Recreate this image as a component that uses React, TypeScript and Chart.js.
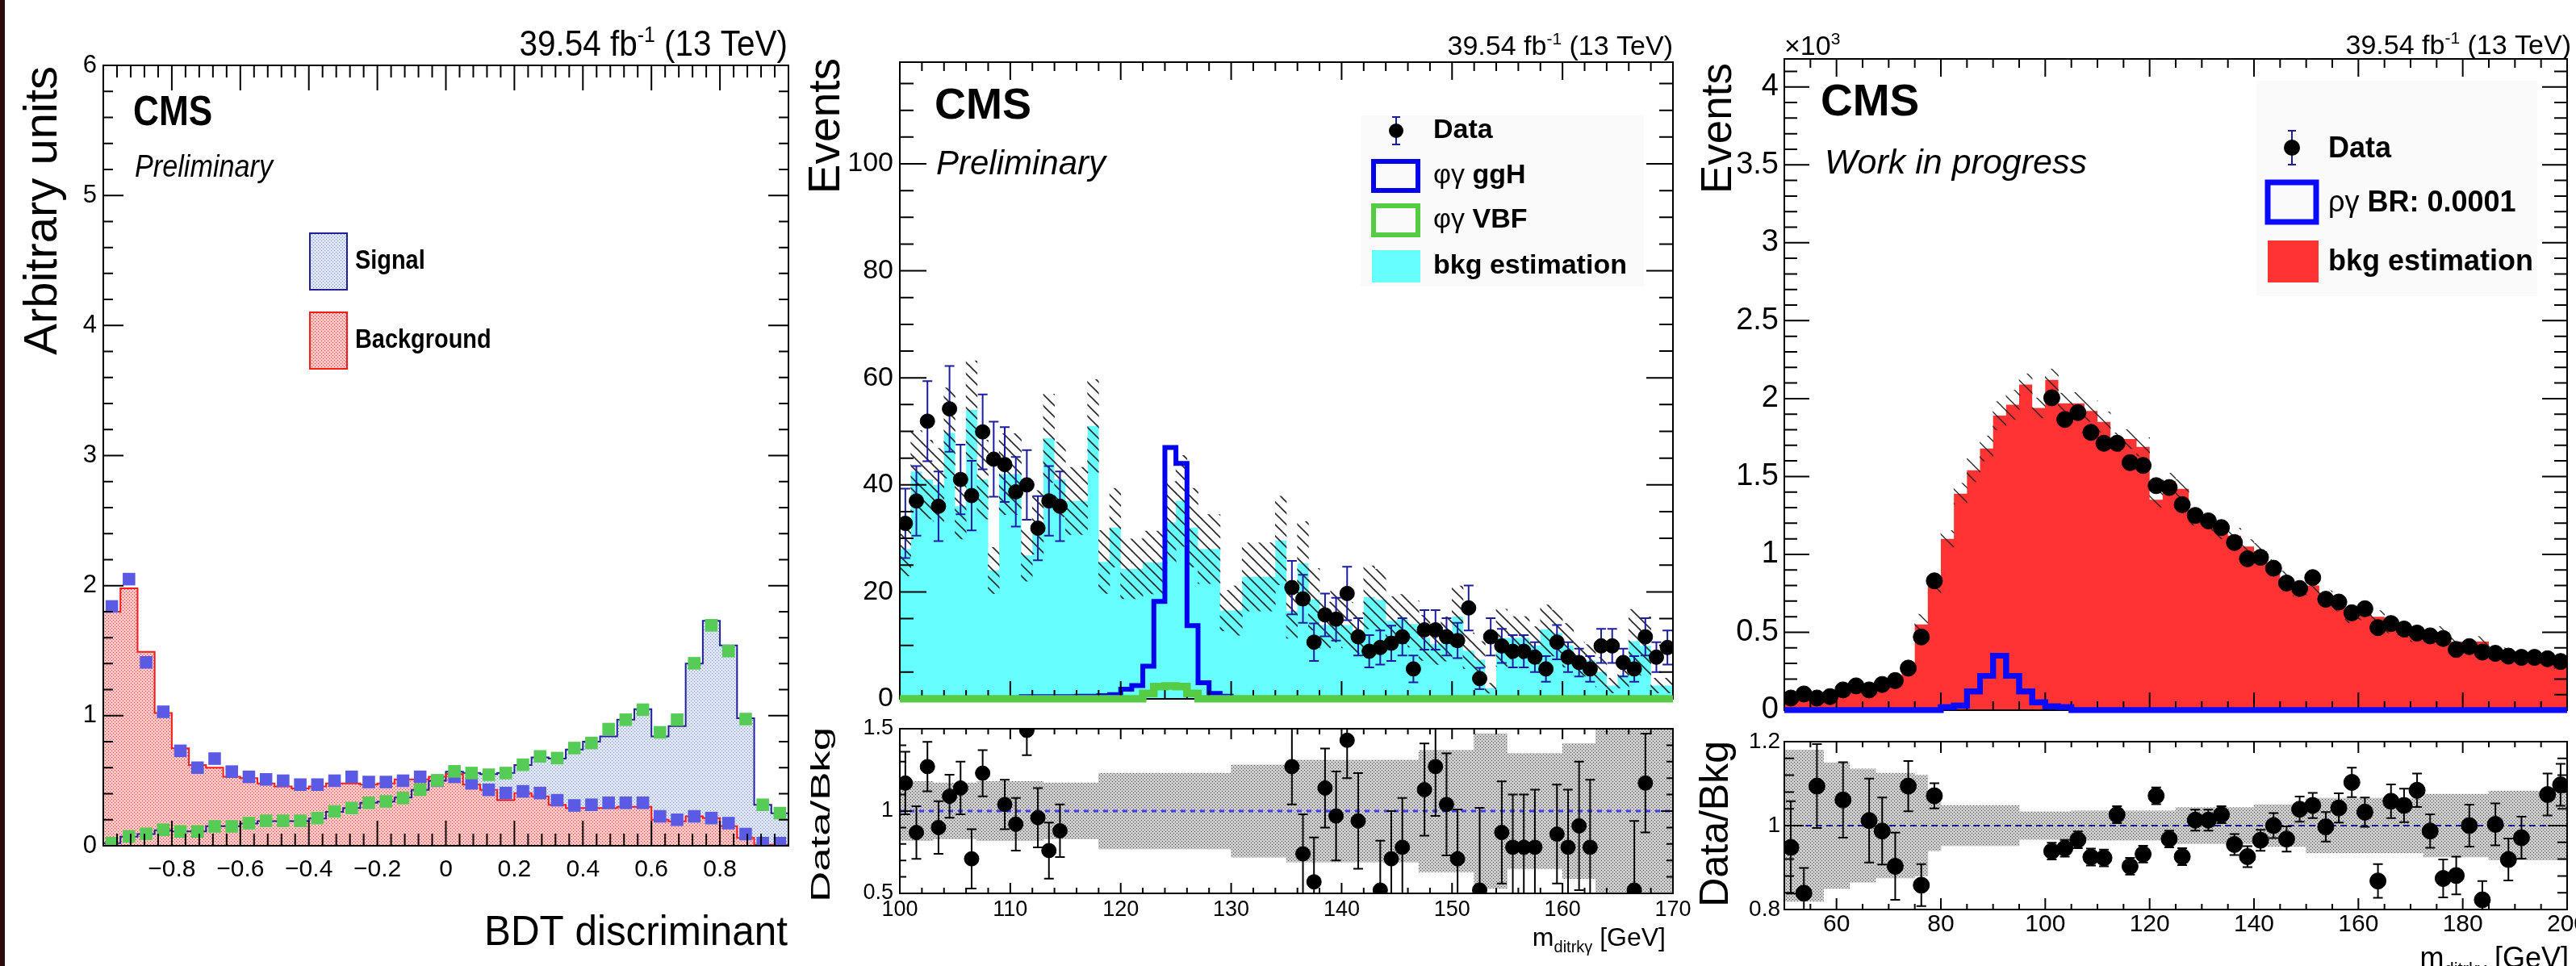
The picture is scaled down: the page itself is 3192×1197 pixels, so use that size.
import { useEffect, useRef } from 'react';
import { Chart, registerables } from 'chart.js';

Chart.register(...registerables);

const FAMILY = '"Liberation Sans", Arial, Helvetica, sans-serif';

/* ================= Panel 1 : BDT discriminant ================= */
const p1BinLow = -1;
const p1BinWidth = 0.05;
const p1SignalHist = [0.02, 0.07, 0.09, 0.12, 0.11, 0.11, 0.15, 0.15, 0.17, 0.19, 0.19, 0.19, 0.21, 0.26, 0.29, 0.33, 0.34, 0.37, 0.43, 0.50, 0.57, 0.56, 0.55, 0.56, 0.62, 0.68, 0.67, 0.74, 0.80, 0.84, 0.97, 1.05, 0.84, 0.92, 1.40, 1.73, 1.54, 0.98, 0.315, 0.25];
const p1BackgroundHist = [1.80, 1.98, 1.49, 1.02, 0.75, 0.62, 0.60, 0.53, 0.52, 0.48, 0.456, 0.44, 0.456, 0.48, 0.48, 0.47, 0.48, 0.51, 0.51, 0.53, 0.55, 0.47, 0.43, 0.35, 0.405, 0.38, 0.315, 0.29, 0.29, 0.29, 0.30, 0.30, 0.20, 0.187, 0.226, 0.213, 0.15, 0.06, 0.008, 0.008];
const p1SignalTest = [0.02, 0.072, 0.092, 0.123, 0.11, 0.11, 0.149, 0.149, 0.174, 0.192, 0.192, 0.192, 0.213, 0.264, 0.29, 0.33, 0.341, 0.367, 0.431, 0.503, 0.572, 0.559, 0.546, 0.559, 0.623, 0.687, 0.674, 0.751, 0.79, 0.897, 0.969, 1.046, 0.872, 0.969, 1.403, 1.695, 1.497, 0.974, 0.315, 0.251];
const p1BackgroundTest = [1.84, 2.05, 1.41, 1.03, 0.73, 0.60, 0.67, 0.57, 0.53, 0.51, 0.50, 0.47, 0.47, 0.50, 0.53, 0.49, 0.49, 0.50, 0.53, 0.50, 0.53, 0.48, 0.43, 0.405, 0.418, 0.405, 0.35, 0.31, 0.315, 0.33, 0.33, 0.33, 0.226, 0.20, 0.226, 0.213, 0.174, 0.09, 0.02, 0.02];
const p1XRange = [-1, 1];
const p1YRange = [0, 6];
const p1XTicks = [-0.8, -0.6, -0.4, -0.2, 0, 0.2, 0.4, 0.6, 0.8];
const p1XTickLabels = ['\u22120.8', '\u22120.6', '\u22120.4', '\u22120.2', '0', '0.2', '0.4', '0.6', '0.8'];
const p1YTicks = [0, 1, 2, 3, 4, 5, 6];
const p1YTickLabels = ['0', '1', '2', '3', '4', '5', '6'];

/* ================= Panel 2 : phi gamma, 100-170 GeV ================= */
const p2BinLow = 100;
const p2BinWidth = 1;
const p2Background = [
  28, 42.5, 41, 40, 49.7, 36, 54, 41, 24, 42,
  42, 26.8, 33, 48.7, 41, 37, 37, 51, 25.6, 32,
  24.3, 24.3, 25.5, 25.5, 33, 37, 32, 28, 28, 16.5,
  16.5, 22.8, 22.8, 22.8, 29.6, 16.4, 25.3, 18.6, 13.8, 15.4,
  13.8, 12.3, 19, 18.5, 14.6, 14.9, 14, 11.4, 10.2, 11.2,
  15.4, 9, 7.3, 2, 11.4, 11.4, 11.4, 10, 13, 12.3,
  10, 7.5, 7.2, 5, 2.5, 4.5, 10.8, 9.9, 2.5, 2.5,
];
const p2BackgroundRelErr = [
  0.18, 0.18, 0.18, 0.17, 0.17, 0.17, 0.17, 0.18, 0.18, 0.18,
  0.18, 0.18, 0.18, 0.17, 0.17, 0.17, 0.17, 0.17, 0.23, 0.23,
  0.23, 0.23, 0.23, 0.23, 0.23, 0.23, 0.23, 0.23, 0.23, 0.23,
  0.28, 0.28, 0.28, 0.28, 0.28, 0.31, 0.31, 0.31, 0.31, 0.31,
  0.31, 0.31, 0.31, 0.31, 0.31, 0.31, 0.31, 0.37, 0.37, 0.37,
  0.37, 0.37, 0.47, 0.47, 0.47, 0.35, 0.35, 0.35, 0.35, 0.35,
  0.41, 0.41, 0.41, 0.55, 0.55, 0.55, 0.55, 0.55, 0.55, 0.55,
];
const p2GgHLow = 111;
const p2GgH = [0.4, 0.4, 0.4, 0.4, 0.4, 0.5, 0.5, 0.6, 0.8, 1.8, 2.5, 6.1, 18.2, 47, 44, 13.7, 3, 1, 0.5];
const p2VBF = [
  0, 0, 0, 0, 0, 0, 0, 0, 0, 0,
  0, 0, 0, 0, 0, 0, 0, 0, 0, 0,
  0, 0, 1.0, 2.3, 2.4, 2.3, 1.0, 0, 0, 0,
  0, 0, 0, 0, 0, 0, 0, 0, 0, 0,
  0, 0, 0, 0, 0, 0, 0, 0, 0, 0,
  0, 0, 0, 0, 0, 0, 0, 0, 0, 0,
  0, 0, 0, 0, 0, 0, 0, 0, 0, 0,
];
const p2DataX = [100.5, 101.5, 102.5, 103.5, 104.5, 105.5, 106.5, 107.5, 108.5, 109.5, 110.5, 111.5, 112.5, 113.5, 114.5,
  135.5, 136.5, 137.5, 138.5, 139.5, 140.5, 141.5, 142.5, 143.5, 144.5, 145.5, 146.5, 147.5, 148.5, 149.5, 150.5, 151.5, 152.5,
  153.5, 154.5, 155.5, 156.5, 157.5, 158.5, 159.5, 160.5, 161.5, 162.5, 163.5, 164.5, 165.5, 166.5, 167.5, 168.5, 169.5];
const p2DataY = [32.8, 37, 51.9, 36, 54.2, 41, 38, 49.9, 44.8, 43.8, 38.7, 40, 31.9, 37, 36,
  20.8, 18.7, 10.6, 15.7, 14.9, 19.7, 11.6, 8.9, 9.6, 10.4, 11.6, 5.6, 12.9, 12.9, 11.6, 10.9, 17, 3.8,
  11.6, 9.9, 8.9, 8.9, 7.8, 5.6, 10.6, 7.8, 6.8, 5.6, 9.9, 9.9, 6.8, 5.6, 11.6, 7.8, 9.6];
const p2DataErr = [6.5, 6.5, 7.5, 6.5, 8, 6.5, 6.5, 7, 7, 7, 6.5, 6.5, 6, 6.5, 6.5,
  5, 4.5, 3.5, 4, 4, 5, 3.5, 3, 3.2, 3.3, 3.5, 2.5, 3.7, 3.7, 3.5, 3.3, 4.2, 2,
  3.5, 3.2, 3, 3, 2.8, 2.4, 3.2, 2.8, 2.6, 2.4, 3.2, 3.2, 2.6, 2.4, 3.5, 2.8, 3.2];
const p2RatioX = [100.5, 101.5, 102.5, 103.5, 104.5, 105.5, 106.5, 107.5, 109.5, 110.5, 111.5, 112.5, 113.5, 114.5,
  135.5, 136.5, 137.5, 138.5, 139.5, 140.5, 141.5, 143.5, 144.5, 145.5, 147.5, 148.5, 149.5, 150.5, 152.5,
  154.5, 155.5, 156.5, 157.5, 159.5, 160.5, 161.5, 162.5, 166.5, 167.5];
const p2RatioY = [1.17, 0.87, 1.27, 0.90, 1.09, 1.14, 0.71, 1.23, 1.04, 0.92, 1.49, 0.96, 0.76, 0.88,
  1.27, 0.74, 0.57, 1.14, 0.97, 1.43, 0.94, 0.52, 0.71, 0.78, 1.13, 1.27, 1.04, 0.71, 0.52,
  0.87, 0.78, 0.78, 0.78, 0.86, 0.78, 0.91, 0.78, 0.52, 1.17];
const p2RatioErr = [0.19, 0.16, 0.15, 0.16, 0.13, 0.16, 0.18, 0.14, 0.15, 0.16, 0.15, 0.18, 0.17, 0.16,
  0.23, 0.24, 0.27, 0.24, 0.27, 0.23, 0.29, 0.3, 0.29, 0.3, 0.28, 0.3, 0.31, 0.3, 0.5,
  0.31, 0.32, 0.32, 0.35, 0.3, 0.35, 0.39, 0.41, 0.42, 0.3];
const p2XRange = [100, 170];
const p2YRange = [0, 119];
const p2RatioRange = [0.5, 1.5];
const p2XTicks = [100, 110, 120, 130, 140, 150, 160, 170];
const p2XTickLabels = ['100', '110', '120', '130', '140', '150', '160', '170'];
const p2YTicks = [0, 20, 40, 60, 80, 100];
const p2YTickLabels = ['0', '20', '40', '60', '80', '100'];
const p2RatioTicks = [0.5, 1, 1.5];
const p2RatioTickLabels = ['0.5', '1', '1.5'];

/* ================= Panel 3 : rho gamma, 50-200 GeV (x10^3 events) ================= */
const p3BinLow = 50;
const p3BinWidth = 2.5;
const p3Background = [
  0.082, 0.12, 0.075, 0.11, 0.123, 0.13, 0.128, 0.167, 0.21, 0.25,
  0.55, 0.80, 1.10, 1.39, 1.54, 1.68, 1.89, 1.96, 2.09, 1.94,
  2.12, 1.97, 1.97, 1.92, 1.85, 1.72, 1.74, 1.69, 1.35, 1.47,
  1.42, 1.24, 1.20, 1.15, 1.12, 1.05, 1.02, 0.92, 0.85, 0.77,
  0.80, 0.72, 0.68, 0.60, 0.62, 0.60, 0.53, 0.50, 0.47, 0.48,
  0.50, 0.44, 0.42, 0.44, 0.38, 0.37, 0.35, 0.34, 0.32, 0.29,
];
const p3BackgroundRelErr = [
  0.18, 0.18, 0.18, 0.15, 0.15, 0.135, 0.135, 0.125, 0.125, 0.125,
  0.12, 0.06, 0.048, 0.048, 0.048, 0.048, 0.048, 0.048, 0.033, 0.033,
  0.033, 0.033, 0.035, 0.035, 0.035, 0.035, 0.035, 0.035, 0.035, 0.035,
  0.043, 0.043, 0.043, 0.043, 0.043, 0.043, 0.05, 0.05, 0.05, 0.05,
  0.065, 0.065, 0.065, 0.065, 0.065, 0.065, 0.065, 0.065, 0.065, 0.075,
  0.075, 0.075, 0.075, 0.075, 0.082, 0.082, 0.082, 0.082, 0.082, 0.082,
];
const p3Signal = [
  0, 0, 0, 0, 0, 0, 0, 0, 0, 0,
  0, 0, 0.02, 0.03, 0.12, 0.22, 0.35, 0.22, 0.12, 0.05,
  0.025, 0.02, 0, 0, 0, 0, 0, 0, 0, 0,
  0, 0, 0, 0, 0, 0, 0, 0, 0, 0,
  0, 0, 0, 0, 0, 0, 0, 0, 0, 0,
  0, 0, 0, 0, 0, 0, 0, 0, 0, 0,
];
const p3DataX = [51.25, 53.75, 56.25, 58.75, 61.25, 63.75, 66.25, 68.75, 71.25, 73.75, 76.25, 78.75,
  101.25, 103.75, 106.25, 108.75, 111.25, 113.75, 116.25, 118.75, 121.25, 123.75, 126.25, 128.75,
  131.25, 133.75, 136.25, 138.75, 141.25, 143.75, 146.25, 148.75, 151.25, 153.75, 156.25, 158.75,
  161.25, 163.75, 166.25, 168.75, 171.25, 173.75, 176.25, 178.75, 181.25, 183.75, 186.25, 188.75,
  191.25, 193.75, 196.25, 198.75];
const p3DataY = [0.078, 0.104, 0.078, 0.087, 0.13, 0.156, 0.13, 0.165, 0.19, 0.27, 0.47, 0.83,
  2.005, 1.866, 1.91, 1.783, 1.713, 1.713, 1.589, 1.571, 1.441, 1.429, 1.319, 1.25,
  1.215, 1.172, 1.076, 0.972, 0.981, 0.911, 0.816, 0.781, 0.851, 0.712, 0.694, 0.625,
  0.651, 0.53, 0.556, 0.521, 0.495, 0.477, 0.46, 0.39, 0.408, 0.373, 0.365, 0.347,
  0.339, 0.339, 0.33, 0.3125];
const p3RatioX = [51.25, 53.75, 56.25, 61.25, 66.25, 68.75, 71.25, 73.75, 76.25, 78.75,
  101.25, 103.75, 106.25, 108.75, 111.25, 113.75, 116.25, 118.75, 121.25, 123.75, 126.25, 128.75,
  131.25, 133.75, 136.25, 138.75, 141.25, 143.75, 146.25, 148.75, 151.25, 153.75, 156.25, 158.75,
  161.25, 163.75, 166.25, 168.75, 171.25, 173.75, 176.25, 178.75, 181.25, 183.75, 186.25, 188.75,
  191.25, 196.25, 198.75];
const p3RatioY = [0.948, 0.839, 1.094, 1.061, 1.012, 0.987, 0.903, 1.094, 0.858, 1.071,
  0.939, 0.946, 0.966, 0.925, 0.923, 1.026, 0.903, 0.932, 1.071, 0.968, 0.926, 1.013,
  1.013, 1.026, 0.955, 0.926, 0.965, 1.0, 0.968, 1.039, 1.048, 0.997, 1.042, 1.103,
  1.032, 0.868, 1.058, 1.048, 1.084, 0.987, 0.874, 0.881, 1.0, 0.823, 1.003, 0.919,
  0.971, 1.074, 1.097];
const p3RatioErr = [0.11, 0.06, 0.1, 0.09, 0.1, 0.08, 0.08, 0.06, 0.05, 0.03,
  0.02, 0.02, 0.02, 0.02, 0.02, 0.02, 0.02, 0.02, 0.02, 0.02, 0.02, 0.025,
  0.025, 0.02, 0.025, 0.025, 0.025, 0.03, 0.03, 0.03, 0.03, 0.035, 0.035, 0.035,
  0.035, 0.04, 0.04, 0.04, 0.04, 0.04, 0.045, 0.045, 0.05, 0.045, 0.05, 0.05,
  0.05, 0.05, 0.05];
const p3XRange = [50, 200];
const p3YRange = [0, 4.18];
const p3RatioRange = [0.8, 1.2];
const p3XTicks = [60, 80, 100, 120, 140, 160, 180, 200];
const p3XTickLabels = ['60', '80', '100', '120', '140', '160', '180', '200'];
const p3YTicks = [0, 0.5, 1, 1.5, 2, 2.5, 3, 3.5, 4];
const p3YTickLabels = ['0', '0.5', '1', '1.5', '2', '2.5', '3', '3.5', '4'];
const p3RatioTicks = [0.8, 1, 1.2];
const p3RatioTickLabels = ['0.8', '1', '1.2'];

/* ================= layout ================= */
const CANVASES = [
  { x: 0, y: 0, w: 1062, h: 1197, area: { l: 128, t: 81, r: 977, b: 1048 } },
  { x: 1000, y: 0, w: 1100, h: 886, area: { l: 1115, t: 77, r: 2073, b: 866 } },
  { x: 1000, y: 886, w: 1100, h: 311, area: { l: 1115, t: 903, r: 2073, b: 1107 } },
  { x: 2085, y: 0, w: 1107, h: 898, area: { l: 2211, t: 73, r: 3190, b: 880 } },
  { x: 2085, y: 898, w: 1107, h: 299, area: { l: 2211, t: 919, r: 3190, b: 1127 } },
];

/* ================= helpers ================= */
function fontOf(p: any) {
  return `${p.style || 'normal'} ${p.weight || 'normal'} ${p.size}px ${FAMILY}`;
}
function P(t: string, size: number, weight = 'normal', style = 'normal', dy = 0) {
  return { t, size, weight, style, dy };
}
function drawRich(ctx: any, parts: any[], x: number, y: number, o: any = {}) {
  ctx.save();
  ctx.translate(x, y);
  if (o.rot) ctx.rotate(o.rot);
  ctx.scale(o.sx || 1, 1);
  ctx.textAlign = 'left';
  ctx.textBaseline = o.baseline || 'alphabetic';
  ctx.fillStyle = o.color || '#000';
  let total = 0;
  parts.forEach((p) => { ctx.font = fontOf(p); total += ctx.measureText(p.t).width; });
  let cx = o.align === 'right' ? -total : o.align === 'center' ? -total / 2 : 0;
  parts.forEach((p) => { ctx.font = fontOf(p); ctx.fillText(p.t, cx, p.dy || 0); cx += ctx.measureText(p.t).width; });
  ctx.restore();
}
function histPoints(lo: number, w: number, vals: number[]) {
  const pts: any[] = [{ x: lo, y: 0 }];
  vals.forEach((v, i) => pts.push({ x: lo + i * w, y: v }));
  pts.push({ x: lo + vals.length * w, y: vals[vals.length - 1] });
  pts.push({ x: lo + vals.length * w, y: 0 });
  return pts;
}
function binCenters(lo: number, w: number, n: number) {
  return Array.from({ length: n }, (_, i) => lo + (i + 0.5) * w);
}
function makeTile(w: number, h: number, paint: (g: any) => void) {
  const c = document.createElement('canvas');
  c.width = w; c.height = h;
  const g = c.getContext('2d')!;
  paint(g);
  return g.createPattern(c, 'repeat');
}
function dotPattern(base: string, dot: string) {
  return makeTile(4, 4, (g) => {
    g.fillStyle = base; g.fillRect(0, 0, 4, 4);
    g.fillStyle = dot; g.fillRect(0, 0, 1, 1); g.fillRect(2, 2, 1, 1);
  });
}
function hatchPattern(color: string, s: number, lw: number) {
  return makeTile(s, s, (g) => {
    g.strokeStyle = color; g.lineWidth = lw;
    g.beginPath();
    g.moveTo(-2, -2); g.lineTo(s + 2, s + 2);
    g.moveTo(-2, s - 2); g.lineTo(2, s + 2);
    g.moveTo(s - 2, -2); g.lineTo(s + 2, 2);
    g.stroke();
  });
}
function eachStep(min: number, max: number, step: number, f: (v: number) => void) {
  const k0 = Math.ceil(min / step - 1e-6);
  for (let k = k0; k * step <= max + 1e-9; k++) f(k * step);
}

const errorBarPlugin = {
  id: 'errbars',
  beforeDatasetDraw(chart: any, args: any) {
    const ds = chart.data.datasets[args.index];
    if (!ds.errors) return;
    const ctx = chart.ctx;
    const a = chart.chartArea;
    const ys = chart.scales.y;
    ctx.save();
    ctx.beginPath();
    ctx.rect(a.left, a.top, a.right - a.left, a.bottom - a.top);
    ctx.clip();
    ctx.strokeStyle = ds.errColor;
    ctx.lineWidth = ds.errWidth;
    ctx.beginPath();
    args.meta.data.forEach((pt: any, i: number) => {
      const d = ds.data[i];
      const e = ds.errors[i];
      const y1 = ys.getPixelForValue(d.y + e);
      const y2 = ys.getPixelForValue(d.y - e);
      const c = ds.errCap;
      ctx.moveTo(pt.x, y1); ctx.lineTo(pt.x, y2);
      ctx.moveTo(pt.x - c, y1); ctx.lineTo(pt.x + c, y1);
      ctx.moveTo(pt.x - c, y2); ctx.lineTo(pt.x + c, y2);
    });
    ctx.stroke();
    ctx.restore();
  },
};

function framePlugin(spec: any) {
  return {
    id: 'rootFrame',
    afterDatasetsDraw(chart: any) {
      const ctx = chart.ctx;
      const a = chart.chartArea;
      const xs = chart.scales.x;
      const ys = chart.scales.y;
      ctx.save();
      ctx.strokeStyle = '#000';
      ctx.lineWidth = 2;
      ctx.beginPath();
      const X = spec.x;
      const Y = spec.y;
      eachStep(X.min, X.max, X.minor, (v) => {
        const p = xs.getPixelForValue(v);
        ctx.moveTo(p, a.bottom); ctx.lineTo(p, a.bottom - X.minLen);
        ctx.moveTo(p, a.top); ctx.lineTo(p, a.top + X.minLen);
      });
      eachStep(X.min, X.max, X.major, (v) => {
        const p = xs.getPixelForValue(v);
        ctx.moveTo(p, a.bottom); ctx.lineTo(p, a.bottom - X.majLen);
        ctx.moveTo(p, a.top); ctx.lineTo(p, a.top + X.majLen);
      });
      eachStep(Y.min, Y.max, Y.minor, (v) => {
        const p = ys.getPixelForValue(v);
        ctx.moveTo(a.left, p); ctx.lineTo(a.left + Y.minLen, p);
        ctx.moveTo(a.right, p); ctx.lineTo(a.right - Y.minLen, p);
      });
      eachStep(Y.min, Y.max, Y.major, (v) => {
        const p = ys.getPixelForValue(v);
        ctx.moveTo(a.left, p); ctx.lineTo(a.left + Y.majLen, p);
        ctx.moveTo(a.right, p); ctx.lineTo(a.right - Y.majLen, p);
      });
      ctx.stroke();
      ctx.strokeRect(a.left, a.top, a.right - a.left, a.bottom - a.top);
      // thick baseline histograms are drawn over the axis, as in the original
      (spec.redraw || []).forEach((idx: number) => {
        const meta = chart.getDatasetMeta(idx);
        ctx.save();
        ctx.beginPath();
        ctx.rect(a.left, a.top, a.right - a.left, a.bottom - a.top + 6);
        ctx.clip();
        meta.dataset.draw(ctx, a);
        ctx.restore();
      });
      if (X.ticks) {
        X.ticks.forEach((v: number, i: number) => {
          drawRich(ctx, [P(X.labels[i], X.size)], xs.getPixelForValue(v), a.bottom + X.offset, { align: 'center' });
        });
      }
      if (Y.ticks) {
        Y.ticks.forEach((v: number, i: number) => {
          drawRich(ctx, [P(Y.labels[i], Y.size)], a.left - Y.gap, ys.getPixelForValue(v), { align: 'right', baseline: 'middle' });
        });
      }
      ctx.translate(-spec.ox, -spec.oy);
      (spec.texts || []).forEach((t: any) => drawRich(ctx, t.parts, t.x, t.y, t));
      if (spec.over) spec.over(ctx, chart);
      ctx.restore();
    },
  };
}

function baseOptions(cv: any, xr: number[], yr: number[]) {
  return {
    responsive: false,
    animation: false,
    events: [],
    layout: {
      padding: {
        left: cv.area.l - cv.x,
        top: cv.area.t - cv.y,
        right: cv.x + cv.w - cv.area.r,
        bottom: cv.y + cv.h - cv.area.b,
      },
    },
    plugins: { legend: { display: false }, tooltip: { enabled: false } },
    scales: {
      x: { type: 'linear', min: xr[0], max: xr[1], display: false, offset: false },
      y: { type: 'linear', min: yr[0], max: yr[1], display: false },
    },
  };
}

function histLine(lo: number, w: number, vals: number[], extra: any) {
  return {
    type: 'line', data: histPoints(lo, w, vals), stepped: true, pointRadius: 0,
    borderJoinStyle: 'miter', ...extra,
  };
}
function points(xs: number[], ys: number[], extra: any) {
  return {
    type: 'line', data: xs.map((x, i) => ({ x, y: ys[i] })), showLine: false, ...extra,
  };
}
function band(lo: number, w: number, lows: number[], highs: number[], extra: any) {
  const c = binCenters(lo, w, lows.length);
  return {
    type: 'bar', data: c.map((x, i) => ({ x, y: [lows[i], highs[i]] })),
    borderWidth: 0, grouped: false, barPercentage: 1, categoryPercentage: 1, ...extra,
  };
}

function drawDataLegend(ctx: any, x: number, y: number, r: number, h: number) {
  ctx.save();
  ctx.strokeStyle = '#1c1ca0'; ctx.lineWidth = 2;
  ctx.beginPath();
  ctx.moveTo(x, y - h); ctx.lineTo(x, y + h);
  ctx.moveTo(x - 5, y - h); ctx.lineTo(x + 5, y - h);
  ctx.moveTo(x - 5, y + h); ctx.lineTo(x + 5, y + h);
  ctx.stroke();
  ctx.fillStyle = '#000';
  ctx.beginPath(); ctx.arc(x, y, r, 0, Math.PI * 2); ctx.fill();
  ctx.restore();
}

export default function App() {
  const r0 = useRef<HTMLCanvasElement>(null);
  const r1 = useRef<HTMLCanvasElement>(null);
  const r2 = useRef<HTMLCanvasElement>(null);
  const r3 = useRef<HTMLCanvasElement>(null);
  const r4 = useRef<HTMLCanvasElement>(null);
  const refs = [r0, r1, r2, r3, r4];

  useEffect(() => {
    document.body.style.margin = '0';
    const patSig = dotPattern('#dde4f5', '#7d90d0');
    const patBkg = dotPattern('#ffc6c6', '#ff3030');
    const patGray = dotPattern('#cccccc', '#4a4a4a');
    const patHatch = hatchPattern('#2a2a2a', 14, 1.6);
    const patHatchRed = hatchPattern('#222', 18, 1.3);
    const charts: any[] = [];
    const up = -Math.PI / 2;

    /* ---------- Panel 1 ---------- */
    {
      const cv = CANVASES[0];
      const centers = binCenters(p1BinLow, p1BinWidth, p1SignalHist.length);
      const spec = {
        ox: cv.x, oy: cv.y,
        x: { min: p1XRange[0], max: p1XRange[1], major: 0.2, minor: 0.04, majLen: 31, minLen: 15, ticks: p1XTicks, labels: p1XTickLabels, size: 30, offset: 38 },
        y: { min: p1YRange[0], max: p1YRange[1], major: 1, minor: 0.2, majLen: 25, minLen: 12, ticks: p1YTicks, labels: p1YTickLabels, size: 31, gap: 8 },
        texts: [
          { parts: [P('39.54 fb', 44), P('-1', 27, 'normal', 'normal', -17), P(' (13 TeV)', 44)], x: 976, y: 69, align: 'right', sx: 0.92 },
          { parts: [P('CMS', 52, 'bold')], x: 165, y: 155, sx: 0.85 },
          { parts: [P('Preliminary', 38, 'normal', 'italic')], x: 167, y: 219, sx: 0.9 },
          { parts: [P('Arbitrary units', 58)], x: 70, y: 82, rot: up, align: 'right' },
          { parts: [P('BDT discriminant', 52)], x: 976, y: 1171, align: 'right', sx: 0.95 },
          { parts: [P('Signal', 34, 'bold')], x: 440, y: 324, baseline: 'middle', sx: 0.85 },
          { parts: [P('Background', 34, 'bold')], x: 440, y: 422, baseline: 'middle', sx: 0.85 },
        ],
        over: (ctx: any) => {
          ctx.save();
          ctx.fillStyle = patSig; ctx.fillRect(384, 289, 46, 70);
          ctx.strokeStyle = '#20209a'; ctx.lineWidth = 2; ctx.strokeRect(384, 289, 46, 70);
          ctx.fillStyle = patBkg; ctx.fillRect(384, 387, 46, 70);
          ctx.strokeStyle = '#ff1a1a'; ctx.strokeRect(384, 387, 46, 70);
          ctx.restore();
        },
      };
      charts.push(new Chart(r0.current as any, {
        type: 'line',
        data: {
          datasets: [
            histLine(p1BinLow, p1BinWidth, p1SignalHist, { fill: 'origin', backgroundColor: patSig, borderColor: 'transparent', borderWidth: 0, order: 10 }),
            histLine(p1BinLow, p1BinWidth, p1BackgroundHist, { fill: 'origin', backgroundColor: patBkg, borderColor: 'transparent', borderWidth: 0, order: 9 }),
            histLine(p1BinLow, p1BinWidth, p1SignalHist, { fill: false, borderColor: '#20209a', borderWidth: 2, order: 8 }),
            histLine(p1BinLow, p1BinWidth, p1BackgroundHist, { fill: false, borderColor: '#ff1a1a', borderWidth: 2, order: 7 }),
            points(centers, p1BackgroundTest, { pointStyle: 'rect', pointRadius: 11, pointBackgroundColor: '#5a5ae4', pointBorderColor: '#5a5ae4', pointBorderWidth: 0, order: 6 }),
            points(centers, p1SignalTest, { pointStyle: 'rect', pointRadius: 11, pointBackgroundColor: '#55cc55', pointBorderColor: '#55cc55', pointBorderWidth: 0, order: 5 }),
          ],
        } as any,
        options: baseOptions(cv, p1XRange, p1YRange) as any,
        plugins: [errorBarPlugin, framePlugin(spec)] as any,
      }));
    }

    /* ---------- Panel 2 main ---------- */
    {
      const cv = CANVASES[1];
      const lo = p2Background.map((v, i) => v * (1 - p2BackgroundRelErr[i]));
      const hi = p2Background.map((v, i) => v * (1 + p2BackgroundRelErr[i]));
      const spec = {
        ox: cv.x, oy: cv.y,
        redraw: [3],
        x: { min: p2XRange[0], max: p2XRange[1], major: 10, minor: 2, majLen: 22, minLen: 11 },
        y: { min: p2YRange[0], max: p2YRange[1], major: 20, minor: 5, majLen: 33, minLen: 17, ticks: p2YTicks, labels: p2YTickLabels, size: 34, gap: 8 },
        texts: [
          { parts: [P('39.54 fb', 34), P('-1', 21, 'normal', 'normal', -13), P(' (13 TeV)', 34)], x: 2073, y: 68, align: 'right' },
          { parts: [P('CMS', 54, 'bold')], x: 1158, y: 147 },
          { parts: [P('Preliminary', 42, 'normal', 'italic')], x: 1160, y: 216 },
          { parts: [P('Events', 55)], x: 1040, y: 72, rot: up, align: 'right' },
          { parts: [P('Data', 34, 'bold')], x: 1776, y: 162, baseline: 'middle' },
          { parts: [P('\u03c6\u03b3 ', 34), P('ggH', 34, 'bold')], x: 1776, y: 218, baseline: 'middle' },
          { parts: [P('\u03c6\u03b3 ', 34), P('VBF', 34, 'bold')], x: 1776, y: 273, baseline: 'middle' },
          { parts: [P('bkg estimation', 34, 'bold')], x: 1776, y: 330, baseline: 'middle' },
        ],
        over: (ctx: any) => {
          ctx.save();
          ctx.fillStyle = 'rgba(0,0,0,0.02)'; ctx.fillRect(1686, 143, 351, 212);
          ctx.strokeStyle = '#0000ee'; ctx.lineWidth = 6; ctx.strokeRect(1702, 200, 55, 36);
          ctx.strokeStyle = '#55cc44'; ctx.strokeRect(1702, 255, 55, 36);
          ctx.fillStyle = '#66ffff'; ctx.fillRect(1700, 310, 60, 40);
          ctx.restore();
          drawDataLegend(ctx, 1730, 162, 9, 17);
        },
      };
      charts.push(new Chart(r1.current as any, {
        type: 'line',
        data: {
          datasets: [
            histLine(p2BinLow, p2BinWidth, p2Background, { fill: 'origin', backgroundColor: '#66ffff', borderColor: 'transparent', borderWidth: 0, order: 10 }),
            band(p2BinLow, p2BinWidth, lo, hi, { backgroundColor: patHatch, order: 8 }),
            histLine(p2GgHLow, p2BinWidth, p2GgH, { fill: false, borderColor: '#0000ee', borderWidth: 6, order: 4 }),
            histLine(p2BinLow, p2BinWidth, p2VBF, { fill: false, borderColor: '#55cc44', borderWidth: 9, order: 3 }),
            points(p2DataX, p2DataY, { pointStyle: 'circle', pointRadius: 9, pointBackgroundColor: '#000', pointBorderColor: '#000', pointBorderWidth: 1, errors: p2DataErr, errColor: '#1c1ca0', errWidth: 2, errCap: 6, order: 1 }),
          ],
        } as any,
        options: baseOptions(cv, p2XRange, p2YRange) as any,
        plugins: [errorBarPlugin, framePlugin(spec)] as any,
      }));
    }

    /* ---------- Panel 2 ratio ---------- */
    {
      const cv = CANVASES[2];
      const lo = p2BackgroundRelErr.map((e) => 1 - e);
      const hi = p2BackgroundRelErr.map((e) => 1 + e);
      const spec = {
        ox: cv.x, oy: cv.y,
        x: { min: p2XRange[0], max: p2XRange[1], major: 10, minor: 2, majLen: 13, minLen: 7, ticks: p2XTicks, labels: p2XTickLabels, size: 27, offset: 28 },
        y: { min: p2RatioRange[0], max: p2RatioRange[1], major: 0.5, minor: 0.1, majLen: 15, minLen: 8, ticks: p2RatioTicks, labels: p2RatioTickLabels, size: 27, gap: 8 },
        texts: [
          { parts: [P('Data/Bkg', 34)], x: 1028, y: 901, rot: up, align: 'right', sx: 1.55 },
          { parts: [P('m', 32), P('ditrk\u03b3', 20, 'normal', 'normal', 8), P(' [GeV]', 32)], x: 2064, y: 1172, align: 'right' },
        ],
      };
      charts.push(new Chart(r2.current as any, {
        type: 'line',
        data: {
          datasets: [
            band(p2BinLow, p2BinWidth, lo, hi, { backgroundColor: patGray, order: 10 }),
            { type: 'line', data: [{ x: p2XRange[0], y: 1 }, { x: p2XRange[1], y: 1 }], borderColor: '#3c3cff', borderWidth: 3, borderDash: [6, 6], pointRadius: 0, order: 5 },
            points(p2RatioX, p2RatioY, { pointStyle: 'circle', pointRadius: 9, pointBackgroundColor: '#000', pointBorderColor: '#000', pointBorderWidth: 1, errors: p2RatioErr, errColor: '#000', errWidth: 2, errCap: 6, order: 1 }),
          ],
        } as any,
        options: baseOptions(cv, p2XRange, p2RatioRange) as any,
        plugins: [errorBarPlugin, framePlugin(spec)] as any,
      }));
    }

    /* ---------- Panel 3 main ---------- */
    {
      const cv = CANVASES[3];
      const lo = p3Background.map((v, i) => v * (1 - p3BackgroundRelErr[i]));
      const hi = p3Background.map((v, i) => v * (1 + p3BackgroundRelErr[i]));
      const spec = {
        ox: cv.x, oy: cv.y,
        redraw: [2],
        x: { min: p3XRange[0], max: p3XRange[1], major: 20, minor: 5, majLen: 22, minLen: 11 },
        y: { min: p3YRange[0], max: p3YRange[1], major: 0.5, minor: 0.1, majLen: 31, minLen: 16, ticks: p3YTicks, labels: p3YTickLabels, size: 38, gap: 7 },
        texts: [
          { parts: [P('\u00d710', 34), P('3', 21, 'normal', 'normal', -13)], x: 2211, y: 68 },
          { parts: [P('39.54 fb', 34), P('-1', 21, 'normal', 'normal', -13), P(' (13 TeV)', 34)], x: 3186, y: 67, align: 'right' },
          { parts: [P('CMS', 55, 'bold')], x: 2256, y: 143 },
          { parts: [P('Work in progress', 43, 'normal', 'italic')], x: 2261, y: 215 },
          { parts: [P('Events', 53)], x: 2145, y: 78, rot: up, align: 'right' },
          { parts: [P('Data', 36, 'bold')], x: 2885, y: 185, baseline: 'middle' },
          { parts: [P('\u03c1\u03b3 ', 36), P('BR: 0.0001', 36, 'bold')], x: 2885, y: 252, baseline: 'middle' },
          { parts: [P('bkg estimation', 36, 'bold')], x: 2885, y: 325, baseline: 'middle' },
        ],
        over: (ctx: any) => {
          ctx.save();
          ctx.fillStyle = 'rgba(0,0,0,0.02)'; ctx.fillRect(2796, 100, 348, 267);
          ctx.strokeStyle = '#0a0aff'; ctx.lineWidth = 7; ctx.strokeRect(2810, 226, 60, 49);
          ctx.fillStyle = '#ff3333'; ctx.fillRect(2810, 298, 63, 52);
          ctx.restore();
          drawDataLegend(ctx, 2840, 183, 10, 21);
        },
      };
      charts.push(new Chart(r3.current as any, {
        type: 'line',
        data: {
          datasets: [
            histLine(p3BinLow, p3BinWidth, p3Background, { fill: 'origin', backgroundColor: '#ff3333', borderColor: 'transparent', borderWidth: 0, order: 10 }),
            band(p3BinLow, p3BinWidth, lo, hi, { backgroundColor: patHatchRed, order: 8 }),
            histLine(p3BinLow, p3BinWidth, p3Signal, { fill: false, borderColor: '#0a0aff', borderWidth: 7, order: 4 }),
            points(p3DataX, p3DataY, { pointStyle: 'circle', pointRadius: 10, pointBackgroundColor: '#000', pointBorderColor: '#000', pointBorderWidth: 1, order: 1 }),
          ],
        } as any,
        options: baseOptions(cv, p3XRange, p3YRange) as any,
        plugins: [errorBarPlugin, framePlugin(spec)] as any,
      }));
    }

    /* ---------- Panel 3 ratio ---------- */
    {
      const cv = CANVASES[4];
      const lo = p3BackgroundRelErr.map((e) => 1 - e);
      const hi = p3BackgroundRelErr.map((e) => 1 + e);
      const spec = {
        ox: cv.x, oy: cv.y,
        x: { min: p3XRange[0], max: p3XRange[1], major: 20, minor: 5, majLen: 14, minLen: 7, ticks: p3XTicks, labels: p3XTickLabels, size: 30, offset: 27 },
        y: { min: p3RatioRange[0], max: p3RatioRange[1], major: 0.2, minor: 0.04, majLen: 24, minLen: 12, ticks: p3RatioTicks, labels: p3RatioTickLabels, size: 28, gap: 5 },
        texts: [
          { parts: [P('Data/Bkg', 50)], x: 2141, y: 918, rot: up, align: 'right' },
          { parts: [P('m', 36), P('ditrk\u03b3', 22, 'normal', 'normal', 9), P(' [GeV]', 36)], x: 3183, y: 1199, align: 'right' },
        ],
      };
      charts.push(new Chart(r4.current as any, {
        type: 'line',
        data: {
          datasets: [
            band(p3BinLow, p3BinWidth, lo, hi, { backgroundColor: patGray, order: 10 }),
            { type: 'line', data: [{ x: p3XRange[0], y: 1 }, { x: p3XRange[1], y: 1 }], borderColor: '#1c1c8c', borderWidth: 2, borderDash: [8, 5], pointRadius: 0, order: 5 },
            points(p3RatioX, p3RatioY, { pointStyle: 'circle', pointRadius: 10, pointBackgroundColor: '#000', pointBorderColor: '#000', pointBorderWidth: 1, errors: p3RatioErr, errColor: '#000', errWidth: 2, errCap: 6, order: 1 }),
          ],
        } as any,
        options: baseOptions(cv, p3XRange, p3RatioRange) as any,
        plugins: [errorBarPlugin, framePlugin(spec)] as any,
      }));
    }

    return () => charts.forEach((c) => c.destroy());
  }, []);

  return (
    <div style={{ position: 'absolute', left: 0, top: 0, width: 3192, height: 1197, background: '#fff', overflow: 'hidden' }}>
      <div style={{ position: 'absolute', left: 0, top: 0, width: 6, height: 1197, background: '#2a0c0c' }} />
      {CANVASES.map((c, i) => (
        <canvas
          key={i}
          ref={refs[i]}
          width={c.w}
          height={c.h}
          style={{ position: 'absolute', left: c.x, top: c.y, width: c.w, height: c.h }}
        />
      ))}
    </div>
  );
}
